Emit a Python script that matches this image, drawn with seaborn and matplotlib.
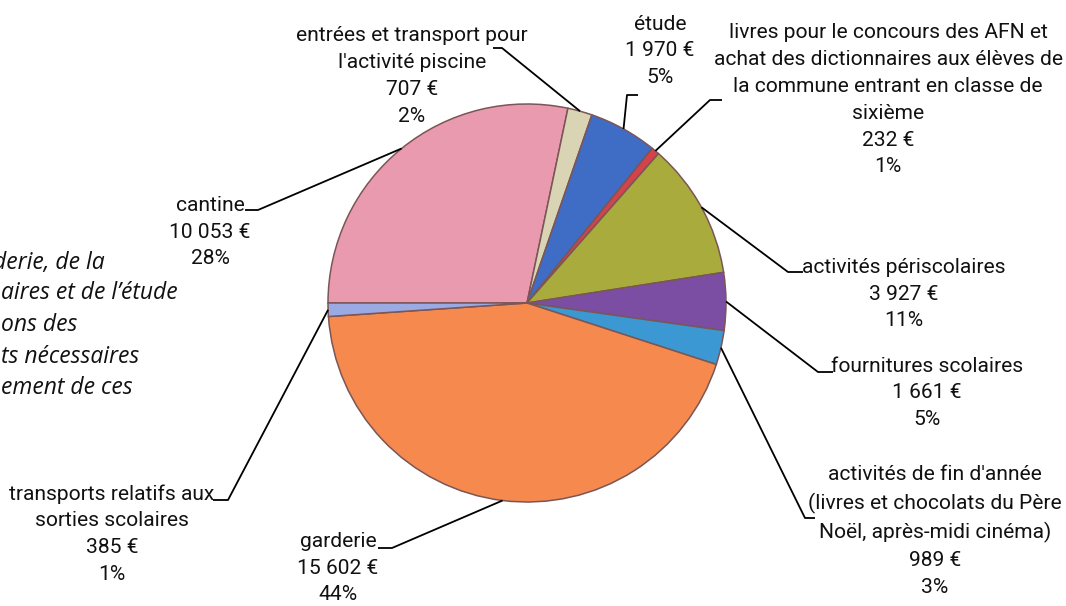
import numpy as np
import matplotlib.pyplot as plt
import seaborn as sns

sns.set_theme(style="white")
plt.rcParams['font.family'] = ['Roboto', 'DejaVu Sans']

# data, in clockwise order starting at 9 o'clock
categories = ["cantine",
              "entrées et transport pour\nl'activité piscine",
              "étude",
              "livres pour le concours des AFN et\nachat des dictionnaires aux élèves de\nla commune entrant en classe de\nsixième",
              "activités périscolaires",
              "fournitures scolaires",
              "activités de fin d'année\n(livres et chocolats du Père\nNoël, après-midi cinéma)",
              "garderie",
              "transports relatifs aux\nsorties scolaires"]
amounts = ["10 053 €", "707 €", "1 970 €", "232 €", "3 927 €", "1 661 €", "989 €", "15 602 €", "385 €"]
values = [10053, 707, 1970, 232, 3927, 1661, 989, 15602, 385]
percents = ["28%", "2%", "5%", "1%", "11%", "5%", "3%", "44%", "1%"]
colors = ['#E99AAF', '#D8D4B4', '#3F6CC4', '#D5424A', '#A9AB3D', '#7B4EA3', '#3C98D2', '#F6894E', '#9BAAE3']

note_lines = ["derie, de la", "aires et de l’étude", "ons des", "ts nécessaires", "ement de ces"]

W, H = 1066, 606
fig = plt.figure(figsize=(W / 100, H / 100), dpi=100)
ax = fig.add_axes([0, 0, 1, 1])

cx, cy, r = 527, H - 303, 199
wedges, _ = ax.pie(values, colors=colors, startangle=180, counterclock=False,
                   center=(cx, cy), radius=r, frame=True,
                   wedgeprops=dict(edgecolor='#7a5656', linewidth=1.1))
ax.set_xlim(0, W)
ax.set_ylim(0, H)
ax.set_aspect('equal')
ax.axis('off')

# label centres and leader elbows (pixel coords, y from top)
label_pos = [(210, 232), (412, 76), (660, 51), (888, 100), (904, 294),
             (927, 393), (935, 531), (338, 568), (112, 534)]
elbows = [[(245, 210), (258, 210)],
          [(493, 48), (502, 48)],
          [(638, 95), (627, 95)],
          [(722, 100), (710, 100)],
          [(803, 272), (788, 272)],
          [(833, 372), (818, 372)],
          [(815, 518), (805, 518)],
          [(378, 548), (392, 548)],
          [(213, 500), (228, 500)]]

for w, cat, amt, pct, (lx, ly), el in zip(wedges, categories, amounts, percents, label_pos, elbows):
    ax.text(lx, H - ly, f"{cat}\n{amt}\n{pct}", ha='center', va='center',
            fontsize=15.1, linespacing=1.52, color='#111111')
    th = np.deg2rad((w.theta1 + w.theta2) / 2)
    px, py = cx + r * np.cos(th), cy + r * np.sin(th)
    xs = [el[0][0], el[1][0], px]
    ys = [H - el[0][1], H - el[1][1], py]
    ax.plot(xs, ys, color='black', lw=1.3, solid_capstyle='butt')

# note on the left, cut by the page edge in the original
note_x = [-7, 1, 1, 1, 1]
note_y = [263, 293, 325, 357, 388]
for t, xl, y in zip(note_lines, note_x, note_y):
    ax.text(xl, H - y, t, ha='left', va='center', fontsize=16.5,
            style='italic', family=['Open Sans', 'DejaVu Sans'], color='#111111')

fig.savefig('out.png', dpi=100)
